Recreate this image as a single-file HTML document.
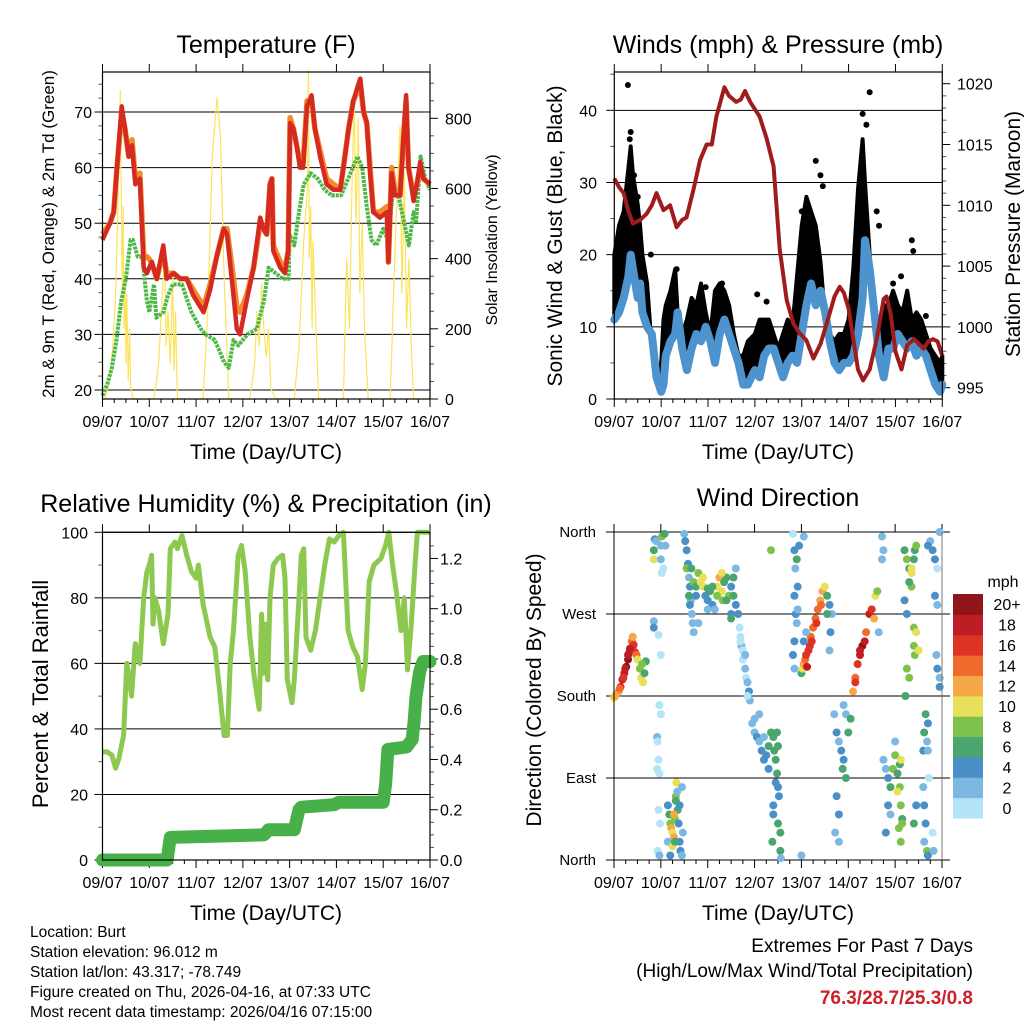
<!DOCTYPE html>
<html><head><meta charset="utf-8"><style>
html,body{margin:0;padding:0;background:#fff}
svg{display:block;font-family:"Liberation Sans",sans-serif}
</style></head><body>
<svg id="chart" width="1024" height="1024" viewBox="0 0 1024 1024" xmlns="http://www.w3.org/2000/svg">
<g id="static" font-size="14" fill="#000">
<text x="266" y="53" font-size="25" text-anchor="middle">Temperature (F)</text>
<text x="778" y="53" font-size="25" text-anchor="middle">Winds (mph) &amp; Pressure (mb)</text>
<text x="266" y="512" font-size="25" text-anchor="middle">Relative Humidity (%) &amp; Precipitation (in)</text>
<text x="778" y="506" font-size="25" text-anchor="middle">Wind Direction</text>
<text x="266" y="459" font-size="21" text-anchor="middle">Time (Day/UTC)</text>
<text x="778" y="459" font-size="21" text-anchor="middle">Time (Day/UTC)</text>
<text x="266" y="920" font-size="21" text-anchor="middle">Time (Day/UTC)</text>
<text x="778" y="920" font-size="21" text-anchor="middle">Time (Day/UTC)</text>
<text transform="translate(54,234) rotate(-90)" font-size="17" text-anchor="middle">2m &amp; 9m T (Red, Orange) &amp; 2m Td (Green)</text>
<text transform="translate(497,240) rotate(-90)" font-size="16" text-anchor="middle">Solar Insolation (Yellow)</text>
<text transform="translate(562,236) rotate(-90)" font-size="21" text-anchor="middle">Sonic Wind &amp; Gust (Blue, Black)</text>
<text transform="translate(1020,234) rotate(-90)" font-size="21" text-anchor="middle">Station Pressure (Maroon)</text>
<text transform="translate(48,694) rotate(-90)" font-size="22" text-anchor="middle">Percent &amp; Total Rainfall</text>
<text transform="translate(541,690) rotate(-90)" font-size="21" text-anchor="middle">Direction (Colored By Speed)</text>
<g font-size="15.5">
<text x="30" y="937">Location: Burt</text>
<text x="30" y="957">Station elevation: 96.012 m</text>
<text x="30" y="977">Station lat/lon: 43.317; -78.749</text>
<text x="30" y="997">Figure created on Thu, 2026-04-16, at 07:33 UTC</text>
<text x="30" y="1017">Most recent data timestamp: 2026/04/16 07:15:00</text>
</g>
<text x="973" y="952" font-size="19" text-anchor="end">Extremes For Past 7 Days</text>
<text x="973" y="977" font-size="19" text-anchor="end">(High/Low/Max Wind/Total Precipitation)</text>
<text x="973" y="1004" font-size="19" font-weight="bold" fill="#cc2229" text-anchor="end">76.3/28.7/25.3/0.8</text>
<text x="1003" y="587" font-size="16" text-anchor="middle">mph</text>
</g>
</svg>
<script>
const dayLabels=["09/07","10/07","11/07","12/07","13/07","14/07","15/07","16/07"];
// Temperature
const tT=[0,.16,.24,.31,.41,.48,.56,.63,.70,.80,.88,.95,1.05,1.16,1.30,1.37,1.52,1.66,1.80,1.94,2.16,2.30,2.44,2.59,2.66,2.80,2.87,2.94,3.08,3.23,3.37,3.44,3.51,3.58,3.62,3.65,3.80,3.90,3.97,4.01,4.08,4.15,4.22,4.29,4.37,4.47,4.54,4.65,4.79,4.94,5.08,5.15,5.26,5.36,5.47,5.51,5.58,5.65,5.72,5.79,5.93,6.08,6.11,6.18,6.25,6.36,6.43,6.49,6.54,6.65,6.72,6.79,6.86,7.0];
const tempRed=[47,50,52,60,71,67,62,64,57,58,42,41,43,40,46,40,41,40,40,37,34,38,44,49,48,37,31,30,36,42,51,49,48,57,58,45,42,41,45,68,67,64,60,60,71,73,67,62,57,56,56,60,67,72,75,76,70,68,59,52,51,52,43,59,55,55,65,73,60,54,57,61,58,57];
const tempOrange=[48,50,52,60,70,67,62,65,58,59,44,44,43,40,45,41,41,40,40,38,35,39,44,49,49,40,35,34,37,42,50,49,48,57,58,46,43,42,45,69,67,64,61,61,72,72,67,63,58,57,56,60,67,72,74,75,70,68,60,52,52,53,43,60,56,55,65,72,60,55,57,60,58,57];
const tDew=[0,.1,.2,.3,.4,.5,.6,.65,.75,.85,.95,1.0,1.1,1.15,1.3,1.4,1.5,1.7,1.9,2.1,2.2,2.4,2.5,2.6,2.7,2.8,2.9,3.1,3.3,3.45,3.55,3.7,3.85,3.98,4.0,4.1,4.2,4.3,4.45,4.6,4.75,4.9,5.1,5.2,5.35,5.45,5.55,5.65,5.75,5.85,6.0,6.1,6.2,6.3,6.45,6.55,6.65,6.7,6.8,6.9,7.0];
const dewpoint=[19,21,24,29,36,40,47,47,44,44,36,34,39,33,34,37,39,39,34,31,30,29,27,25,24,29,28,30,31,36,42,41,40,40,48,46,52,57,59,58,56,55,55,57,60,62,60,53,47,46,49,47,55,56,50,46,52,50,62,58,56];
const tSolar=[0,.05,.15,.22,.28,.32,.35,.38,.4,.42,.44,.46,.48,.5,.52,.55,.58,.6,.65,1.1,1.2,1.28,1.33,1.36,1.4,1.45,1.5,1.53,1.56,1.6,2.15,2.25,2.35,2.45,2.52,2.6,2.7,3.15,3.25,3.3,3.35,3.4,3.45,3.5,3.55,3.6,3.7,4.1,4.2,4.3,4.38,4.4,4.42,4.45,4.48,4.5,4.55,4.62,5.15,5.22,5.28,5.33,5.38,5.42,5.47,5.5,5.55,5.6,5.68,6.15,6.22,6.3,6.36,6.4,6.45,6.5,6.55,6.6,6.65,7.0];
const solar=[0,0,50,150,300,500,700,880,600,300,550,200,350,100,300,50,200,40,0,0,100,300,400,150,250,100,350,80,250,0,0,250,700,860,750,350,0,0,100,250,150,330,200,120,200,30,0,0,150,450,600,940,400,550,200,450,250,0,0,400,200,600,850,500,800,300,500,200,0,0,300,600,780,300,650,200,400,150,0,0];
// Winds
const tWind=[0,.1,.2,.3,.35,.4,.5,.55,.6,.7,.8,.9,1.0,1.05,1.1,1.2,1.3,1.35,1.45,1.55,1.65,1.75,1.85,1.95,2.05,2.15,2.25,2.35,2.45,2.55,2.65,2.75,2.85,3.0,3.1,3.2,3.3,3.4,3.5,3.6,3.7,3.8,3.9,4.0,4.1,4.2,4.3,4.4,4.5,4.6,4.7,4.8,4.9,5.0,5.1,5.2,5.3,5.35,5.45,5.55,5.65,5.75,5.85,5.95,6.05,6.15,6.25,6.35,6.45,6.55,6.65,6.75,6.85,6.95,7.0];
const windSpeed=[11,12,14,17,20,18,14,16,12,10,9,3,1,2,6,8,9,12,7,4,7,9,8,10,8,5,9,11,9,7,5,2,2,4,3,6,7,7,5,3,5,6,5,9,13,16,13,15,12,8,5,4,5,5,6,9,14,22,18,12,6,3,7,7,9,8,7,8,6,7,6,4,2,1,2];
const windGust=[20,24,26,32,35,31,27,24,20,16,7,4,5,11,13,15,18,12,9,11,14,13,16,12,9,15,16,15,13,9,6,6,8,9,11,11,11,9,7,9,11,10,17,24,28,26,24,19,11,9,8,9,9,11,18,29,36,30,20,11,8,13,13,15,13,12,15,11,12,11,9,7,6,5,6];
const gustT=[.29,.35,.33,.42,.5,.78,1.33,1.95,2.3,3.05,3.25,4.0,4.3,4.4,4.45,5.3,5.38,5.45,5.6,5.65,5.95,6.12,6.35,6.38,6.65];
const gustV=[43.5,37,36,31,28,20,18,15.5,16,14.5,13.5,26,33,31,29.5,39.5,38,42.5,26,24,16,17,22,20.5,11.5];
const tPres=[0,.1,.2,.3,.4,.55,.69,.8,.9,1.05,1.19,1.33,1.45,1.54,1.69,1.83,1.97,2.08,2.18,2.35,2.45,2.6,2.7,2.79,2.9,3.1,3.25,3.4,3.53,3.68,3.82,3.95,4.1,4.25,4.4,4.55,4.7,4.81,4.9,5.0,5.1,5.2,5.31,5.45,5.6,5.75,5.81,5.9,6.0,6.13,6.25,6.4,6.5,6.6,6.7,6.8,6.9,7.0];
const pressure=[1012.2,1011.5,1011,1009.5,1008.5,1008.8,1009.3,1010,1011,1009.6,1010,1008.2,1008.8,1009,1011.3,1013.7,1015,1015,1017.3,1019.7,1019,1018.5,1018.7,1019.4,1018.5,1017.3,1015.5,1013.2,1006.4,1002.2,1000.3,999.5,998.9,997.4,998.6,1000.5,1002.5,1003.3,1002.8,1001.5,999,996.5,995.6,996.5,999,1002.3,1002.5,1001,998,996.5,998.5,999,998.6,998.2,998.8,999,998.8,997.6];
// RH & precip
const tRH=[0,.1,.2,.28,.35,.45,.52,.58,.62,.7,.8,.88,.95,1.0,1.05,1.08,1.12,1.2,1.3,1.4,1.45,1.55,1.6,1.7,1.8,1.9,2.0,2.05,2.15,2.3,2.4,2.5,2.6,2.67,2.73,2.8,2.9,2.97,3.05,3.15,3.25,3.35,3.4,3.43,3.48,3.53,3.58,3.65,3.75,3.85,3.9,3.95,4.05,4.1,4.2,4.25,4.3,4.35,4.45,4.55,4.65,4.75,4.85,4.95,5.05,5.15,5.25,5.35,5.45,5.5,5.55,5.62,5.7,5.8,5.95,6.05,6.12,6.2,6.28,6.38,6.45,6.52,6.6,6.68,6.73,7.0];
const humidity=[33,33,32,28,31,38,60,55,50,66,60,80,88,90,93,72,80,76,66,75,95,97,95,99,93,88,86,90,78,68,65,52,38,38,60,70,93,96,88,68,55,46,75,57,72,55,80,90,92,93,86,55,48,55,80,93,95,68,64,70,80,90,98,97,99,100,70,65,62,57,52,60,85,90,92,96,100,90,82,70,80,58,72,90,100,100];
const tPrecip=[0,1.38,1.45,3.45,3.55,4.1,4.2,4.25,4.95,5.05,6.0,6.05,6.1,6.5,6.62,6.66,6.7,6.78,6.85,7.0];
const precip=[0,0,.09,.1,.12,.12,.2,.21,.22,.23,.23,.3,.44,.45,.48,.55,.65,.75,.79,.79];
// Wind direction scatter: [day, degrees, speed]
const dirT=[0,.03,.06,.1,.14,.18,.22,.26,.3,.33,.36,.38,.4,.42,.45,.48,.5,.55,.58,.62,.65,.68,.6,.3,.24,.34,.2,.12,
.85,.85,.87,.9,1.0,1.0,1.02,.85,.85,.95,1.0,.97,1.0,.92,.93,.95,.92,.97,.95,.98,.93,.97,1.02,1.08,1.1,1.05,
1.15,1.18,1.2,1.22,1.25,1.28,1.3,1.32,1.33,1.36,1.38,1.4,1.42,1.45,1.47,1.15,1.2,1.25,1.28,1.3,1.35,1.45,1.4,1.32,
1.5,1.52,1.55,1.58,1.6,1.62,1.64,1.66,1.68,1.7,1.6,1.55,1.62,
1.65,1.7,1.75,1.8,1.85,1.9,1.95,2.0,2.05,2.1,2.15,2.2,2.25,2.3,2.32,2.35,2.4,2.45,2.5,2.55,2.6,2.65,2.4,2.3,2.2,2.1,2.0,1.9,2.5,2.55,1.75,1.8,2.0,2.6,2.5,
2.68,2.7,2.72,2.75,2.8,2.82,2.85,2.88,2.9,2.85,2.75,2.8,2.7,
2.95,3.0,3.05,3.1,3.15,3.2,3.25,3.3,3.35,3.1,3.0,3.2,3.3,
3.4,3.42,3.45,3.48,3.5,3.52,3.4,3.4,3.38,3.5,3.55,3.55,3.56,3.45,3.48,3.5,3.35,
3.82,3.85,3.87,3.9,3.95,3.92,3.85,3.88,3.9,3.85,3.82,3.85,4.0,4.05,3.92,
4.0,4.02,4.05,4.08,4.1,4.15,4.18,4.2,4.25,4.3,4.35,4.4,4.45,4.5,4.55,4.6,4.65,4.12,4.22,4.32,4.42,4.55,4.62,4.6,4.05,4.1,
4.7,4.75,4.8,4.85,4.9,4.95,4.88,4.75,4.8,4.72,4.8,4.9,4.95,5.0,5.05,5.1,5.15,5.2,5.25,5.3,5.35,5.38,5.45,5.5,5.55,5.58,5.62,5.25,5.15,5.65,
5.72,5.75,5.72,5.75,5.8,5.85,5.9,5.95,6.0,6.05,6.1,6.12,6.15,6.08,5.85,5.8,5.9,6.0,6.1,6.12,6.05,6.15,6.12,
6.2,6.25,6.3,6.35,6.4,6.42,6.45,6.35,6.3,6.2,6.25,6.4,6.45,6.4,6.42,6.3,6.22,6.25,6.5,6.35,
6.6,6.62,6.65,6.7,6.68,6.6,6.62,6.65,6.62,6.68,6.7,6.75,6.8,6.85,6.7,6.85,6.9,6.9,6.95,6.95,6.7,6.72,6.8,6.82,6.9,6.95,6.88,6.45,6.4];
const dirDeg=[178,180,183,185,190,198,205,212,220,228,232,240,245,236,228,225,220,210,200,195,205,218,215,225,210,232,200,188,
340,330,352,350,345,330,315,262,255,247,225,170,160,135,130,110,100,95,55,40,10,5,355,358,345,320,
60,50,40,35,30,25,45,70,85,55,40,20,10,5,30,20,5,15,50,20,75,80,60,65,
358,350,340,325,310,300,285,270,260,250,290,320,280,
320,305,300,315,305,300,290,285,295,280,275,300,310,295,285,305,310,290,300,290,280,270,285,315,290,300,298,310,270,310,290,260,275,320,265,
255,245,235,220,210,200,195,185,175,180,230,225,240,
150,140,135,130,120,110,115,125,140,160,155,135,100,
135,120,110,95,80,70,60,50,20,40,30,10,2,85,140,125,340,
358,340,320,330,345,300,290,270,260,240,225,210,5,355,275,
205,210,215,220,225,230,235,245,255,265,275,285,295,300,290,280,270,212,240,260,280,270,250,230,240,250,
160,140,130,120,110,90,100,70,50,30,20,170,160,140,155,185,200,215,225,235,240,250,270,275,265,290,295,230,195,250,
355,340,330,110,100,90,80,100,115,95,80,60,45,35,60,30,50,130,105,110,75,40,20,
340,330,320,315,330,340,345,300,305,285,270,255,250,235,225,200,180,210,230,320,
120,140,160,150,130,80,60,40,20,10,5,350,340,330,345,290,280,210,190,200,120,90,30,10,320,360,225,60,40];
const dirSpd=[11,12,12,13,16,18,19,20,20,19,16,14,12,17,16,15,10,9,10,10,7,6,8,18,19,18,17,14,
6,10,4,2,3,2,1,3,4,1,1,1,1,2,1,1,1,0,1,0,1,2,8,7,3,1,
4,6,8,12,10,13,8,9,10,7,4,5,4,3,2,3,4,11,12,6,3,2,4,7,
3,4,4,4,3,5,3,2,2,3,6,8,4,
7,8,6,9,11,10,4,4,6,4,3,10,12,11,8,6,7,9,5,6,4,5,7,11,8,6,7,10,4,7,4,2,2,2,7,
1,1,2,1,3,1,2,4,2,1,0,2,0,
3,3,4,2,4,4,5,7,6,2,2,3,4,
6,7,6,6,4,5,4,4,7,6,6,6,3,5,6,7,8,
1,4,3,6,5,4,4,4,3,4,4,3,2,3,3,
7,10,12,14,16,17,16,15,14,15,14,13,12,10,6,4,3,18,17,16,14,7,4,3,4,3,
3,4,3,4,5,6,6,4,4,3,3,2,3,6,6,13,15,17,18,20,19,15,19,16,12,11,8,19,16,3,
2,2,3,2,3,5,6,8,8,7,9,8,7,8,4,4,3,3,7,10,10,9,8,
6,8,7,10,6,7,8,9,6,4,4,9,10,8,9,8,7,9,10,10,
5,6,7,4,3,2,4,5,3,8,4,3,5,4,5,4,3,4,4,2,2,0,1,2,1,3,3,5,6];
const cbLabels=["0","2","4","6","8","10","12","14","16","18","20+"];
const cbColors=["#b5e3f8","#7cb8e2","#4b8fc7","#4aa56f","#7ec24b","#e6e05b","#f5a847","#ef6a2c","#dd3327","#bf1d24","#8f1518"];

const NS="http://www.w3.org/2000/svg";
const svg=document.getElementById('chart');
function mk(tag,attrs,parent){const e=document.createElementNS(NS,tag);for(const k in attrs)e.setAttribute(k,attrs[k]);(parent||svg).appendChild(e);return e;}
function txt(s,attrs){const e=mk('text',attrs);e.textContent=s;return e;}
function pathOf(ts,vs,xf,yf){return ts.map((t,i)=>(i?'L':'M')+xf(t).toFixed(1)+' '+yf(vs[i]).toFixed(1)).join(' ');}

const P1={L:102.5,R:430,T:72,B:399},P2={L:614.3,R:942.3,T:72,B:399},P3={L:102.5,R:430,T:532.3,B:860},P4={L:614,R:942,T:532,B:860};
const xOf=P=>d=>P.L+d*(P.R-P.L)/7;
const x1=xOf(P1),x2=xOf(P2),x3=xOf(P3),x4=xOf(P4);
const yT=v=>390-(v-20)*5.56, yS=w=>399-w*0.3509;
const yW=v=>399-v*7.217, yP=p=>387.7-(p-995)*12.16;
const yRH=v=>860-v*3.277, yPr=v=>860-v*251.3;
const yD=d=>860-d*0.9111;

function frame(P,name,xf){
  const g=mk('g',{});
  
  
  dayLabels.forEach((lab,i)=>{
    const x=xf(i);
    mk('line',{x1:x,y1:P.B,x2:x,y2:P.B+8,stroke:'#000'},g);
    mk('line',{x1:x,y1:P.T,x2:x,y2:P.T-8,stroke:'#000'},g);
    const t=txt(lab,{x:x,y:P.B+28,'font-size':16,'text-anchor':'middle'});
    
    
  });
  for(let h=0;h<7*4;h++){if(h%4){const x=xf(h/4);mk('line',{x1:x,y1:P.B,x2:x,y2:P.B+4,stroke:'#000'},g);}}
  return g;
}
function hgrid(P,ys,labels,side,lx,name){
  ys.forEach((y,i)=>{
    const l=mk('line',{x1:P.L,y1:y,x2:P.R,y2:y,stroke:'#000','stroke-width':1});
    
    
    mk('line',{x1:side==='L'?P.L-8:P.R,y1:y,x2:side==='L'?P.L:P.R+8,y2:y,stroke:'#000'});
    const t=txt(labels[i],{x:lx,y:y+6,'font-size':16,'text-anchor':side==='L'?'end':'start'});
    
    
  });
}
function rticks(P,ys,labels,lx,name){
  ys.forEach((y,i)=>{
    mk('line',{x1:P.R,y1:y,x2:P.R+8,y2:y,stroke:'#000'});
    const t=txt(labels[i],{x:lx,y:y+6,'font-size':16});
    
    
  });
}
function minor(P,ys,side){ys.forEach(y=>{if(y>=P.T&&y<=P.B)mk('line',{x1:side==='L'?P.L-4:P.R,y1:y,x2:side==='L'?P.L:P.R+4,y2:y,stroke:'#555'});});}
function box(P,name){const r=mk('rect',{x:P.L,y:P.T,width:P.R-P.L,height:P.B-P.T,fill:'none',stroke:'#000','stroke-width':1.2});}

// ---------- Panel 1 ----------
frame(P1,'temperature',x1);
const tTicks=[20,30,40,50,60,70];
hgrid(P1,tTicks.map(yT),tTicks.map(String),'L',92,'temperature');
minor(P1,[22.5,25,27.5,32.5,35,37.5,42.5,45,47.5,52.5,55,57.5,62.5,65,67.5,72.5,75,77.5].map(yT),'L');
const sTicks=[0,200,400,600,800];
rticks(P1,sTicks.map(yS),sTicks.map(String),445,'solar');
minor(P1,[50,100,150,250,300,350,450,500,550,650,700,750,850,900].map(yS),'R');
let p=mk('path',{d:pathOf(tSolar,solar,x1,yS),fill:'none',stroke:'#fce45a','stroke-width':1.2});


p=mk('path',{d:pathOf(tDew,dewpoint,x1,yT),fill:'none',stroke:'#4db848','stroke-width':4,'stroke-dasharray':'3 1','stroke-linejoin':'round'});


p=mk('path',{d:pathOf(tT,tempOrange,x1,yT),fill:'none',stroke:'#f5892c','stroke-width':5.5,'stroke-linejoin':'round'});


p=mk('path',{d:pathOf(tT,tempRed,x1,yT),fill:'none',stroke:'#d42a22','stroke-width':4.5,'stroke-linejoin':'round'});


box(P1,'temperature');

// ---------- Panel 2 ----------
frame(P2,'winds',x2);
const wTicks=[0,10,20,30,40];
hgrid(P2,wTicks.map(yW),wTicks.map(String),'L',597,'wind');
minor(P2,[5,15,25,35,45].map(yW),'L');
const pTicks=[995,1000,1005,1010,1015,1020];
rticks(P2,pTicks.map(yP),pTicks.map(String),957,'pressure');
minor(P2,[996,997,998,999,1001,1002,1003,1004,1006,1007,1008,1009,1011,1012,1013,1014,1016,1017,1018,1019,1021].map(yP),'R');
// gust band: area between sonic wind and gust
const gd=tWind.map((t,i)=>(i?'L':'M')+x2(t).toFixed(1)+' '+yW(windGust[i]).toFixed(1)).join(' ')+' '+
  tWind.slice().reverse().map((t,j)=>{const i=tWind.length-1-j;return 'L'+x2(t).toFixed(1)+' '+yW(windSpeed[i]).toFixed(1);}).join(' ')+'Z';
p=mk('path',{d:gd,fill:'#000',stroke:'#000','stroke-width':4,'stroke-linejoin':'round'});


gustT.forEach((t,i)=>{const c=mk('circle',{cx:x2(t),cy:yW(gustV[i]),r:3,fill:'#000'});

});
p=mk('path',{d:pathOf(tWind,windSpeed,x2,yW),fill:'none',stroke:'#4d94cf','stroke-width':8,'stroke-linejoin':'round','stroke-linecap':'round'});


p=mk('path',{d:pathOf(tPres,pressure,x2,yP),fill:'none',stroke:'#a01c1c','stroke-width':4,'stroke-linejoin':'round'});


box(P2,'winds');

// ---------- Panel 3 ----------
frame(P3,'humidity',x3);
const rhTicks=[0,20,40,60,80,100];
hgrid(P3,rhTicks.map(yRH),rhTicks.map(String),'L',88,'humidity');
minor(P3,[10,30,50,70,90].map(yRH),'L');
const prTicks=[0,.2,.4,.6,.8,1.0,1.2];
rticks(P3,prTicks.map(yPr),prTicks.map(v=>v.toFixed(1)),440,'precip');
minor(P3,[.05,.1,.15,.25,.3,.35,.45,.5,.55,.65,.7,.75,.85,.9,.95,1.05,1.1,1.15,1.25].map(yPr),'R');
p=mk('path',{d:pathOf(tRH,humidity,x3,yRH),fill:'none',stroke:'#8dc950','stroke-width':5,'stroke-linejoin':'round'});


p=mk('path',{d:pathOf(tPrecip,precip,x3,yPr),fill:'none',stroke:'#47b048','stroke-width':13,'stroke-linejoin':'round','stroke-linecap':'round'});


box(P3,'humidity');

// ---------- Panel 4 ----------
frame(P4,'direction',x4);
const dTicks=[0,90,180,270,360];
const dNames=["North","East","South","West","North"];
dTicks.forEach((d,i)=>{
  const y=yD(d);
  const l=mk('line',{x1:P4.L-8,y1:y,x2:P4.R+8,y2:y,stroke:'#000'});
  
  
  const t=txt(dNames[i],{x:596,y:y+5,'font-size':15,'text-anchor':'end'});
  
  
});
function spdColor(s){return cbColors[Math.min(10,Math.floor(s/2))];}
dirT.forEach((t,i)=>{
  const c=mk('circle',{cx:x4(t),cy:yD(dirDeg[i]),r:4,fill:spdColor(dirSpd[i])});
  
  
});
mk('line',{x1:P4.L,y1:P4.T,x2:P4.L,y2:P4.B,stroke:'#000'});
mk('line',{x1:P4.R,y1:P4.T,x2:P4.R,y2:P4.B,stroke:'#777'});
// colorbar
const cbTop=594,cbH=224/11;
cbLabels.forEach((lab,i)=>{
  const k=10-i;
  const r=mk('rect',{x:953,y:cbTop+k*cbH,width:30,height:cbH+0.5,fill:cbColors[i]});
  
  
  const t=txt(lab,{x:1007,y:cbTop+k*cbH+cbH/2+6,'font-size':16,'text-anchor':'middle'});
  
  
});
</script>
</body></html>
